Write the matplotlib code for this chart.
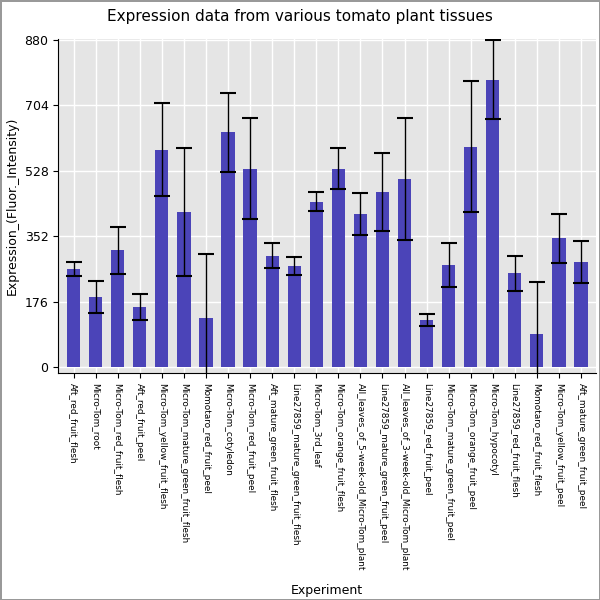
import numpy as np
import matplotlib.pyplot as plt

experiments = [
    "Aft_red_fruit_flesh", "Micro-Tom_root", "Micro-Tom_red_fruit_flesh", "Aft_red_fruit_peel",
    "Micro-Tom_yellow_fruit_flesh", "Micro-Tom_mature_green_fruit_flesh", "Momotaro_red_fruit_peel",
    "Micro-Tom_cotyledon", "Micro-Tom_red_fruit_peel", "Aft_mature_green_fruit_flesh",
    "Line27859_mature_green_fruit_flesh", "Micro-Tom_3rd_leaf", "Micro-Tom_orange_fruit_flesh",
    "All_leaves_of_5-week-old_Micro-Tom_plant", "Line27859_mature_green_fruit_peel",
    "All_leaves_of_3-week-old_Micro-Tom_plant", "Line27859_red_fruit_peel",
    "Micro-Tom_mature_green_fruit_peel", "Micro-Tom_orange_fruit_peel", "Micro-Tom_hypocotyl",
    "Line27859_red_fruit_flesh", "Momotaro_red_fruit_flesh", "Micro-Tom_yellow_fruit_peel",
    "Aft_mature_green_fruit_peel",
]
expression = [263, 188, 314, 161, 585, 416, 131, 631, 534, 300, 271, 445,
              534, 411, 472, 507, 126, 274, 593, 773, 252, 89, 346, 282]
errors = [19, 43, 64, 35, 126, 172, 172, 107, 137, 33, 24, 25,
          56, 56, 105, 164, 16, 59, 177, 107, 48, 139, 67, 56]

fig = plt.figure(figsize=(6, 6), dpi=100)
fig.patch.set_edgecolor("#999999")
fig.patch.set_linewidth(1)
ax = fig.add_axes([0.097, 0.378, 0.897, 0.557])
ax.set_facecolor("#e5e5e5")
x = np.arange(len(experiments))
ax.bar(x, expression, width=0.6, color="#4b44b8", zorder=2,
       yerr=errors, error_kw=dict(ecolor="black", elinewidth=1, capsize=6, capthick=1.5, zorder=3))
ax.set_xlim(-0.7, len(experiments) - 0.3)
ax.set_ylim(-16, 882)
ax.set_yticks([0, 176, 352, 528, 704, 880])
ax.grid(color="white", linewidth=1, zorder=0)
ax.set_axisbelow(True)
ax.set_xticks(x)
ax.set_xticklabels(experiments, rotation=270, fontsize=6.4)
ax.tick_params(axis="y", labelsize=9)
for s in ["top", "right"]:
    ax.spines[s].set_visible(False)
ax.set_xlabel("Experiment", fontsize=9)
ax.xaxis.set_label_coords(0.5, -0.63)
ax.set_ylabel("Expression_(Fluor._Intensity)", fontsize=9)
fig.suptitle("Expression data from various tomato plant tissues", fontsize=11, y=0.985)
fig.savefig("out.png", dpi=100, edgecolor=fig.get_edgecolor())
